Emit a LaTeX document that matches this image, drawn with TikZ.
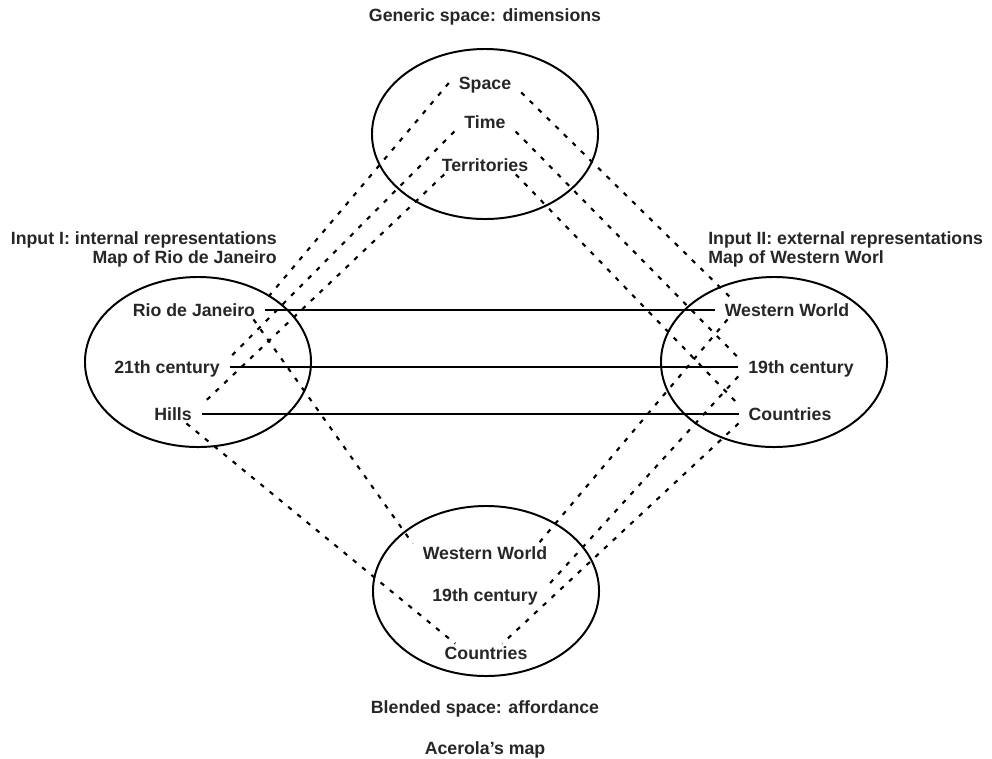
\documentclass[tikz,border=0pt]{standalone}
\usepackage{fontspec}
\setmainfont{Liberation Sans}
\usetikzlibrary{shapes.geometric}

\begin{document}
\begin{tikzpicture}[x=0.025cm, y=-0.025cm,
    mentalspace/.style ={ellipse, draw, line width=1.4pt, minimum width=5.65cm, minimum height=4.25cm},
    spaceitem/.style ={font=\fontsize{12.6}{15}\selectfont\bfseries, text=black!85, text height=9pt, text depth=0pt, inner xsep=7pt, inner ysep=2pt},
    spacetitle/.style ={font=\fontsize{12.6}{15}\selectfont\bfseries, text=black!85, text height=9pt, text depth=0pt, inner sep=0pt},
    projection/.style ={line width=1.5pt, dash pattern=on 3.2pt off 5.3pt},
    counterpart/.style ={line width=1.4pt}]
   \useasboundingbox (0,0) rectangle (992,758);

   % the four spaces
   \node[mentalspace] (G) at (485,134) {};
   \node[mentalspace] (I1) at (198,362) {};
   \node[mentalspace] (I2) at (774,362) {};
   \node[mentalspace] (B) at (486,591) {};

   \node[spacetitle] (GT) at (485,15) {Generic space: dimensions};
   \node[spacetitle, anchor=east] (I1T) at (277,238) {Input I: internal representations};
   \node[spacetitle, anchor=east] (I1M) at (277,257) {Map of Rio de Janeiro};
   \node[spacetitle, anchor=west] (I2T) at (708,238) {Input II: external representations};
   \node[spacetitle, anchor=west] (I2M) at (708,257) {Map of Western Worl};
   \node[spacetitle] (BT) at (485,707) {Blended space: affordance};
   \node[spacetitle] (BM) at (485,748) {Acerola's map};

   % generic space
   \node[spaceitem] (Gs) at (485,83)  {Space};
   \node[spaceitem] (Gt) at (485,122) {Time};
   \node[spaceitem] (Gr) at (485,165) {Territories};

   % input I
   \node[spaceitem] (Ia) at (194,310) {Rio de Janeiro};
   \node[spaceitem] (Ib) at (167,367) {21th century};
   \node[spaceitem] (Ic) at (173,414) {Hills};

   % input II
   \node[spaceitem] (Ja) at (787,310) {Western World};
   \node[spaceitem] (Jb) at (801,367) {19th century};
   \node[spaceitem] (Jc) at (790,414) {Countries};

   % blend
   \node[spaceitem] (Ba) at (485,553) {Western World};
   \node[spaceitem] (Bb) at (485,595) {19th century};
   \node[spaceitem] (Bc) at (486,653) {Countries};

   % cross-space mapping
   \draw[counterpart] (Ia.east) to (Ja.west);
   \draw[counterpart] (Ib.east) to (Jb.west);
   \draw[counterpart] (Ic.east) to (Jc.west);

   % generic to inputs
   \draw[projection] (Gs.west) to (Ia.north east);
   \draw[projection] (Gt.south west) to (Ib.north east);
   \draw[projection] (Gr.193) to (Ic.north east);
   \draw[projection] (Gs.south east) to (Ja.170);
   \draw[projection] (Gt.south east) to (Jb.north west);
   \draw[projection] (Gr.-17) to (Jc.north west);

   % inputs to blend
   \draw[projection] (Ia.-9) to (Ba.north west);
   \draw[projection] (Ic.-35) to (Bc.163);
   \draw[projection] (Ja.189) to (Ba.10);
   \draw[projection] (Jb.south west) to (Bb.north east);
   \draw[projection] (Jc.south west) to (Bc.30);
 \end{tikzpicture}
\end{document}
